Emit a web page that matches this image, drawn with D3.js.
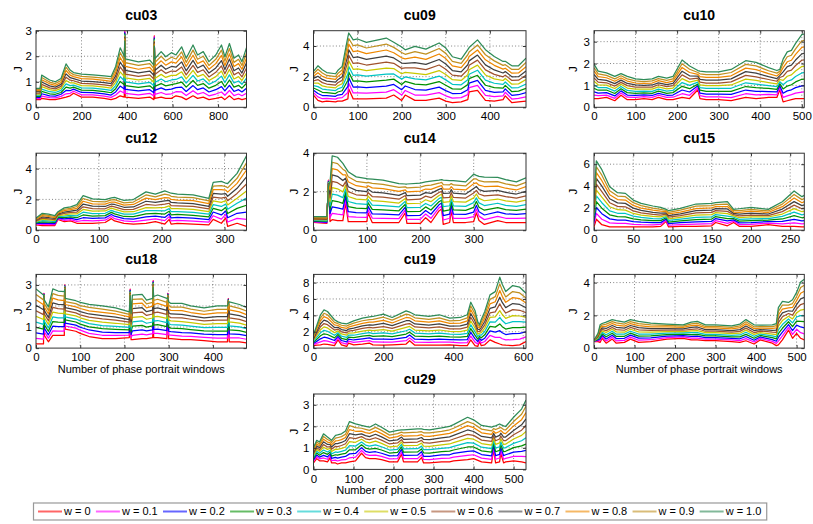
<!DOCTYPE html>
<html><head><meta charset="utf-8">
<script src="https://cdn.jsdelivr.net/npm/d3@7"></script>
<style>
body{margin:0;background:#fff;}
svg{display:block;font-family:"Liberation Sans",Arial,Helvetica,sans-serif;}
</style></head><body>
<svg id="chart" width="813" height="524"></svg>
<script>
// ---------- chart data (J for w = 0, 0.1, ..., 1.0 at each window index) ----------
const panelNames = ["cu03","cu09","cu10","cu12","cu14","cu15","cu18","cu19","cu24","cu29"];
const xMax = [925,482,506,335,398,268,476,608,519,531];
const yMax = [3,5,3.5,5,4,7,3.5,9,4.5,3.5];
const xTicks = [[0,200,400,600,800],[0,100,200,300,400],[0,100,200,300,400,500],[0,100,200,300],[0,100,200,300],[0,50,100,150,200,250],[0,100,200,300,400],[0,200,400,600],[0,100,200,300,400,500],[0,100,200,300,400,500]];
const yTicks = [[0,1,2,3],[0,2,4],[0,1,2,3],[0,2,4],[0,2,4],[0,2,4,6],[0,1,2,3],[0,2,4,6,8],[0,2,4],[0,1,2,3]];
const wLabels = ["w = 0","w = 0.1","w = 0.2","w = 0.3","w = 0.4","w = 0.5","w = 0.6","w = 0.7","w = 0.8","w = 0.9","w = 1.0"];
const xLabelText = "Number of phase portrait windows";
const yLabelText = "J";

const cu03_x = [0,18,25,60,85,110,132,150,165,200,250,300,330,350,370,388,390,392,450,500,518,520,522,550,570,595,615,640,660,690,710,735,760,790,815,830,850,870,890,905,925];
const cu03_J = [
[.30,.34,.39,.43,.48,.52,.56,.61,.65,.70,.74],
[.30,.34,.39,.43,.48,.52,.56,.61,.65,.70,.74],
[.35,.44,.53,.62,.71,.81,.90,.99,1.08,1.17,1.26],
[.30,.38,.45,.53,.61,.69,.76,.84,.92,.99,1.07],
[.30,.37,.44,.51,.58,.65,.72,.79,.86,.93,1.00],
[.35,.43,.51,.58,.66,.74,.82,.90,.97,1.05,1.13],
[.40,.53,.66,.79,.92,1.05,1.18,1.31,1.44,1.57,1.70],
[.45,.55,.65,.75,.85,.96,1.06,1.16,1.26,1.36,1.46],
[.55,.63,.71,.79,.87,.96,1.04,1.12,1.20,1.28,1.36],
[.40,.49,.58,.67,.76,.85,.94,1.03,1.12,1.21,1.30],
[.40,.49,.57,.66,.75,.84,.92,1.01,1.10,1.18,1.27],
[.35,.44,.53,.61,.70,.79,.88,.97,1.05,1.14,1.23],
[.30,.39,.48,.57,.66,.75,.84,.93,1.02,1.11,1.20],
[.35,.48,.60,.73,.85,.98,1.10,1.23,1.35,1.48,1.60],
[.45,.64,.83,1.01,1.20,1.39,1.58,1.77,1.95,2.14,2.33],
[.40,.56,.72,.88,1.04,1.20,1.36,1.52,1.68,1.84,2.00],
[3.00,2.96,2.92,2.88,2.84,2.80,2.76,2.72,2.68,2.64,2.60],
[.40,.55,.70,.85,1.00,1.15,1.30,1.45,1.60,1.75,1.90],
[.35,.49,.64,.78,.92,1.07,1.21,1.35,1.49,1.64,1.78],
[.40,.55,.69,.84,.98,1.13,1.27,1.42,1.56,1.71,1.85],
[.30,.44,.57,.71,.84,.98,1.11,1.25,1.38,1.52,1.65],
[2.80,2.76,2.72,2.68,2.64,2.60,2.56,2.52,2.48,2.44,2.40],
[.35,.51,.66,.82,.97,1.13,1.28,1.44,1.59,1.75,1.90],
[.40,.58,.76,.93,1.11,1.29,1.47,1.65,1.82,2.00,2.18],
[.35,.51,.68,.84,1.00,1.17,1.33,1.49,1.65,1.82,1.98],
[.35,.53,.71,.89,1.07,1.25,1.42,1.60,1.78,1.96,2.14],
[.45,.61,.77,.93,1.09,1.25,1.41,1.57,1.73,1.89,2.05],
[.40,.60,.79,.99,1.19,1.39,1.58,1.78,1.98,2.17,2.37],
[.30,.46,.62,.79,.95,1.11,1.27,1.43,1.60,1.76,1.92],
[.45,.65,.85,1.05,1.25,1.45,1.64,1.84,2.04,2.24,2.44],
[.35,.52,.69,.86,1.03,1.20,1.37,1.54,1.71,1.88,2.05],
[.40,.58,.76,.93,1.11,1.29,1.47,1.65,1.82,2.00,2.18],
[.30,.45,.60,.75,.90,1.05,1.19,1.34,1.49,1.64,1.79],
[.35,.52,.69,.86,1.03,1.20,1.37,1.54,1.71,1.88,2.05],
[.40,.60,.81,1.01,1.22,1.42,1.62,1.83,2.03,2.24,2.44],
[.30,.47,.64,.80,.97,1.14,1.31,1.48,1.64,1.81,1.98],
[.45,.66,.86,1.07,1.27,1.48,1.68,1.89,2.09,2.30,2.50],
[.30,.46,.62,.79,.95,1.11,1.27,1.43,1.60,1.76,1.92],
[.35,.52,.69,.86,1.03,1.20,1.37,1.54,1.71,1.88,2.05],
[.30,.45,.60,.75,.90,1.05,1.19,1.34,1.49,1.64,1.79],
[.35,.55,.75,.94,1.14,1.34,1.54,1.74,1.93,2.13,2.33]];

const cu09_x = [0,10,20,30,50,55,65,78,80,90,100,120,165,182,200,208,230,255,285,300,315,335,350,353,372,390,410,430,435,450,465,482];
const cu09_J = [
[.80,.95,1.11,1.26,1.42,1.57,1.72,1.88,2.03,2.19,2.34],
[.45,.68,.90,1.13,1.35,1.58,1.81,2.03,2.26,2.48,2.71],
[.35,.56,.77,.98,1.19,1.40,1.61,1.82,2.03,2.24,2.45],
[.40,.59,.77,.96,1.15,1.34,1.52,1.71,1.90,2.08,2.27],
[.35,.53,.72,.90,1.09,1.27,1.45,1.64,1.82,2.01,2.19],
[.40,.60,.80,1.00,1.20,1.40,1.60,1.80,2.00,2.20,2.40],
[.40,.63,.85,1.08,1.31,1.54,1.76,1.99,2.22,2.44,2.67],
[.55,.96,1.36,1.77,2.17,2.58,2.98,3.39,3.79,4.20,4.60],
[1.20,1.57,1.93,2.30,2.66,3.03,3.39,3.76,4.12,4.49,4.85],
[.55,.94,1.32,1.71,2.09,2.48,2.86,3.25,3.63,4.02,4.40],
[.55,.94,1.33,1.72,2.11,2.51,2.90,3.29,3.68,4.07,4.46],
[.55,.92,1.29,1.66,2.03,2.40,2.76,3.13,3.50,3.87,4.24],
[.60,.99,1.38,1.78,2.17,2.56,2.95,3.34,3.74,4.13,4.52],
[.80,1.15,1.49,1.84,2.18,2.53,2.87,3.22,3.56,3.91,4.25],
[.45,.80,1.15,1.49,1.84,2.19,2.54,2.89,3.23,3.58,3.93],
[.80,1.10,1.39,1.69,1.98,2.28,2.57,2.87,3.16,3.46,3.75],
[.45,.80,1.16,1.51,1.86,2.22,2.57,2.92,3.27,3.63,3.98],
[.45,.79,1.12,1.46,1.79,2.13,2.46,2.80,3.13,3.47,3.80],
[.60,.96,1.32,1.68,2.04,2.40,2.76,3.12,3.48,3.84,4.20],
[.40,.75,1.09,1.44,1.79,2.14,2.48,2.83,3.18,3.52,3.87],
[.30,.60,.90,1.20,1.50,1.80,2.10,2.40,2.70,3.00,3.30],
[.35,.63,.91,1.19,1.47,1.75,2.03,2.31,2.59,2.87,3.15],
[.50,.83,1.15,1.48,1.80,2.13,2.46,2.78,3.11,3.43,3.76],
[1.00,1.29,1.58,1.87,2.16,2.45,2.74,3.03,3.32,3.61,3.90],
[1.10,1.43,1.76,2.09,2.42,2.75,3.08,3.41,3.74,4.07,4.40],
[.45,.78,1.11,1.44,1.77,2.11,2.44,2.77,3.10,3.43,3.76],
[.40,.69,.98,1.28,1.57,1.86,2.15,2.44,2.74,3.03,3.32],
[.50,.75,1.00,1.25,1.50,1.75,1.99,2.24,2.49,2.74,2.99],
[.75,.98,1.20,1.43,1.65,1.88,2.10,2.33,2.55,2.78,3.00],
[.30,.54,.78,1.02,1.26,1.51,1.75,1.99,2.23,2.47,2.71],
[.35,.59,.82,1.06,1.29,1.53,1.77,2.00,2.24,2.47,2.71],
[.40,.68,.96,1.24,1.52,1.81,2.09,2.37,2.65,2.93,3.21]];

const cu10_x = [0,10,30,50,65,80,100,120,140,155,175,190,212,230,250,255,270,300,330,365,390,420,440,447,455,465,475,485,500,506];
const cu10_J = [
[.40,.56,.71,.87,1.03,1.19,1.34,1.50,1.66,1.81,1.97],
[.40,.53,.65,.78,.90,1.03,1.15,1.28,1.40,1.53,1.65],
[.45,.56,.67,.79,.90,1.01,1.12,1.23,1.35,1.46,1.57],
[.30,.41,.52,.63,.74,.86,.97,1.08,1.19,1.30,1.41],
[.55,.65,.75,.85,.95,1.05,1.14,1.24,1.34,1.44,1.54],
[.35,.46,.56,.67,.77,.88,.99,1.09,1.20,1.30,1.41],
[.35,.45,.54,.64,.73,.83,.92,1.02,1.11,1.21,1.30],
[.40,.49,.57,.66,.74,.83,.92,1.00,1.09,1.17,1.26],
[.35,.45,.54,.64,.73,.83,.92,1.02,1.11,1.21,1.30],
[.45,.55,.64,.74,.83,.93,1.03,1.12,1.22,1.31,1.41],
[.35,.45,.55,.64,.74,.84,.94,1.04,1.13,1.23,1.33],
[.35,.46,.56,.67,.77,.88,.99,1.09,1.20,1.30,1.41],
[.45,.62,.79,.96,1.13,1.31,1.48,1.65,1.82,1.99,2.16],
[.40,.55,.70,.85,1.00,1.15,1.29,1.44,1.59,1.74,1.89],
[.80,.89,.98,1.06,1.15,1.24,1.33,1.42,1.50,1.59,1.68],
[.40,.53,.65,.78,.90,1.03,1.15,1.28,1.40,1.53,1.65],
[.35,.48,.60,.73,.86,.99,1.11,1.24,1.37,1.49,1.62],
[.35,.48,.60,.73,.86,.99,1.11,1.24,1.37,1.49,1.62],
[.30,.44,.59,.73,.87,1.02,1.16,1.30,1.44,1.59,1.73],
[.45,.62,.79,.95,1.12,1.29,1.46,1.63,1.79,1.96,2.13],
[.40,.57,.73,.90,1.06,1.23,1.39,1.56,1.72,1.89,2.05],
[.45,.59,.72,.86,.99,1.13,1.27,1.40,1.54,1.67,1.81],
[.45,.57,.70,.82,.94,1.07,1.19,1.31,1.43,1.56,1.68],
[.80,.89,.99,1.08,1.17,1.27,1.36,1.45,1.54,1.64,1.73],
[.25,.45,.64,.84,1.03,1.23,1.42,1.62,1.81,2.01,2.20],
[.30,.52,.75,.97,1.19,1.42,1.64,1.86,2.08,2.31,2.53],
[.35,.58,.80,1.03,1.25,1.48,1.70,1.93,2.15,2.38,2.60],
[.40,.65,.90,1.16,1.41,1.66,1.91,2.16,2.42,2.67,2.92],
[.40,.69,.98,1.28,1.57,1.86,2.15,2.44,2.74,3.03,3.32],
[.40,.70,.99,1.29,1.58,1.88,2.17,2.47,2.76,3.06,3.35]];

const cu12_x = [0,10,20,30,35,45,55,65,75,90,110,120,125,140,155,175,190,205,212,215,225,250,275,282,295,302,305,320,335];
const cu12_J = [
[.35,.39,.44,.48,.53,.57,.61,.66,.70,.75,.79],
[.30,.38,.46,.54,.62,.70,.78,.86,.94,1.02,1.10],
[.30,.37,.45,.52,.60,.67,.74,.82,.89,.97,1.04],
[.30,.37,.43,.50,.56,.63,.69,.76,.82,.89,.95],
[.70,.75,.80,.85,.90,.95,1.00,1.05,1.10,1.15,1.20],
[.55,.64,.73,.82,.91,1.00,1.09,1.18,1.27,1.36,1.45],
[.60,.69,.78,.87,.96,1.06,1.15,1.24,1.33,1.42,1.51],
[.45,.57,.69,.81,.93,1.06,1.18,1.30,1.42,1.54,1.66],
[.45,.63,.81,.99,1.17,1.35,1.52,1.70,1.88,2.06,2.24],
[.45,.61,.77,.92,1.08,1.24,1.40,1.56,1.71,1.87,2.03],
[.50,.65,.80,.95,1.10,1.25,1.39,1.54,1.69,1.84,1.99],
[.75,.89,1.02,1.16,1.29,1.43,1.56,1.70,1.83,1.97,2.10],
[.60,.75,.91,1.06,1.21,1.37,1.52,1.67,1.82,1.98,2.13],
[.45,.60,.75,.89,1.04,1.19,1.34,1.49,1.63,1.78,1.93],
[.40,.56,.72,.88,1.04,1.20,1.35,1.51,1.67,1.83,1.99],
[.45,.65,.86,1.06,1.27,1.47,1.67,1.88,2.08,2.29,2.49],
[.55,.73,.91,1.09,1.27,1.45,1.62,1.80,1.98,2.16,2.34],
[.40,.62,.83,1.05,1.26,1.48,1.69,1.91,2.12,2.34,2.55],
[.70,.88,1.05,1.23,1.40,1.58,1.75,1.93,2.10,2.28,2.45],
[.40,.60,.80,1.00,1.20,1.40,1.60,1.80,2.00,2.20,2.40],
[.45,.64,.83,1.02,1.21,1.40,1.58,1.77,1.96,2.15,2.34],
[.40,.59,.78,.97,1.16,1.35,1.54,1.73,1.92,2.11,2.30],
[.35,.52,.69,.87,1.04,1.21,1.38,1.55,1.73,1.90,2.07],
[.70,.94,1.18,1.42,1.66,1.91,2.15,2.39,2.63,2.87,3.11],
[.45,.72,.99,1.27,1.54,1.81,2.08,2.35,2.63,2.90,3.17],
[.80,1.03,1.25,1.48,1.70,1.93,2.15,2.38,2.60,2.83,3.05],
[.25,.53,.81,1.08,1.36,1.64,1.92,2.20,2.47,2.75,3.03],
[.45,.77,1.10,1.42,1.75,2.07,2.39,2.72,3.04,3.37,3.69],
[.25,.71,1.17,1.62,2.08,2.54,3.00,3.46,3.91,4.37,4.83]];

const cu14_x = [0,25,28,31,35,45,55,60,65,80,100,102,110,130,160,172,175,200,210,220,235,240,243,255,258,262,285,300,305,310,320,345,360,380,398];
const cu14_J = [
[.40,.43,.46,.49,.52,.55,.58,.61,.64,.67,.70],
[.35,.39,.42,.46,.49,.53,.56,.60,.63,.67,.70],
[2.60,2.57,2.54,2.51,2.48,2.45,2.42,2.39,2.36,2.33,2.30],
[.45,.66,.86,1.07,1.27,1.48,1.68,1.89,2.09,2.30,2.50],
[.55,.88,1.21,1.54,1.87,2.21,2.54,2.87,3.20,3.53,3.86],
[.50,.83,1.16,1.49,1.82,2.15,2.47,2.80,3.13,3.46,3.79],
[.50,.80,1.09,1.39,1.69,1.99,2.28,2.58,2.88,3.17,3.47],
[1.40,1.59,1.77,1.96,2.14,2.33,2.51,2.70,2.88,3.07,3.25],
[.45,.71,.97,1.23,1.49,1.75,2.00,2.26,2.52,2.78,3.04],
[.45,.68,.91,1.15,1.38,1.61,1.84,2.07,2.31,2.54,2.77],
[.45,.67,.90,1.12,1.34,1.57,1.79,2.01,2.23,2.46,2.68],
[.90,1.08,1.25,1.43,1.60,1.78,1.96,2.13,2.31,2.48,2.66],
[.40,.63,.85,1.08,1.30,1.53,1.75,1.98,2.20,2.43,2.65],
[.40,.62,.84,1.06,1.28,1.50,1.72,1.94,2.16,2.38,2.60],
[.40,.60,.80,1.01,1.21,1.41,1.61,1.81,2.02,2.22,2.42],
[.90,1.05,1.20,1.35,1.50,1.65,1.80,1.95,2.10,2.25,2.40],
[.35,.56,.76,.97,1.17,1.38,1.58,1.79,1.99,2.20,2.40],
[.35,.56,.77,.98,1.19,1.40,1.61,1.82,2.03,2.24,2.45],
[.65,.84,1.02,1.21,1.39,1.58,1.77,1.95,2.14,2.32,2.51],
[.40,.62,.83,1.05,1.26,1.48,1.69,1.91,2.12,2.34,2.55],
[1.00,1.16,1.32,1.48,1.64,1.80,1.96,2.12,2.28,2.44,2.60],
[1.10,1.25,1.41,1.56,1.71,1.87,2.02,2.17,2.32,2.48,2.63],
[.30,.53,.76,.99,1.22,1.45,1.68,1.91,2.14,2.37,2.60],
[.40,.62,.84,1.05,1.27,1.49,1.71,1.93,2.14,2.36,2.58],
[1.00,1.16,1.32,1.47,1.63,1.79,1.95,2.11,2.26,2.42,2.58],
[.40,.62,.83,1.05,1.27,1.49,1.70,1.92,2.14,2.35,2.57],
[.40,.61,.82,1.03,1.24,1.46,1.67,1.88,2.09,2.30,2.51],
[.45,.70,.94,1.19,1.43,1.68,1.93,2.17,2.42,2.66,2.91],
[.90,1.10,1.29,1.49,1.68,1.88,2.07,2.27,2.46,2.66,2.85],
[.50,.73,.96,1.19,1.42,1.65,1.88,2.11,2.34,2.57,2.80],
[.30,.55,.79,1.04,1.28,1.53,1.78,2.02,2.27,2.51,2.76],
[.50,.72,.95,1.17,1.40,1.62,1.84,2.07,2.29,2.52,2.74],
[.40,.62,.85,1.07,1.29,1.52,1.74,1.96,2.18,2.41,2.63],
[.40,.61,.82,1.03,1.24,1.46,1.67,1.88,2.09,2.30,2.51],
[.40,.63,.86,1.10,1.33,1.56,1.79,2.02,2.26,2.49,2.72]];

const cu15_x = [0,3,10,20,30,40,50,60,75,85,92,95,110,130,150,155,170,178,185,200,222,240,255,265,268];
const cu15_J = [
[.30,.55,.80,1.05,1.30,1.55,1.80,2.05,2.30,2.55,2.80],
[1.00,1.53,2.06,2.59,3.12,3.65,4.18,4.71,5.24,5.77,6.30],
[.50,1.00,1.50,2.00,2.50,3.00,3.50,4.00,4.50,5.00,5.50],
[.30,.67,1.03,1.40,1.76,2.13,2.50,2.86,3.23,3.59,3.96],
[.30,.61,.92,1.23,1.54,1.86,2.17,2.48,2.79,3.10,3.41],
[.30,.61,.91,1.22,1.52,1.83,2.13,2.44,2.74,3.05,3.35],
[.30,.54,.79,1.03,1.28,1.52,1.76,2.01,2.25,2.50,2.74],
[.30,.51,.73,.94,1.16,1.37,1.58,1.80,2.01,2.23,2.44],
[.30,.49,.68,.87,1.06,1.25,1.44,1.63,1.82,2.01,2.20],
[.35,.52,.69,.87,1.04,1.21,1.38,1.55,1.73,1.90,2.07],
[.80,.91,1.02,1.13,1.24,1.35,1.46,1.57,1.68,1.79,1.90],
[.30,.45,.59,.74,.89,1.04,1.18,1.33,1.48,1.62,1.77],
[.35,.51,.68,.84,1.00,1.17,1.33,1.49,1.65,1.82,1.98],
[.35,.55,.76,.96,1.16,1.37,1.57,1.77,1.97,2.18,2.38],
[.40,.60,.81,1.01,1.22,1.42,1.62,1.83,2.03,2.24,2.44],
[.70,.88,1.06,1.24,1.42,1.60,1.78,1.96,2.14,2.32,2.50],
[.40,.62,.84,1.06,1.28,1.50,1.71,1.93,2.15,2.37,2.59],
[.70,.82,.94,1.06,1.18,1.30,1.41,1.53,1.65,1.77,1.89],
[.35,.51,.67,.83,.99,1.15,1.31,1.47,1.63,1.79,1.95],
[.35,.52,.69,.87,1.04,1.21,1.38,1.55,1.73,1.90,2.07],
[.50,.64,.78,.92,1.06,1.20,1.33,1.47,1.61,1.75,1.89],
[.35,.57,.80,1.02,1.25,1.47,1.69,1.92,2.14,2.37,2.59],
[.35,.67,.99,1.32,1.64,1.96,2.28,2.60,2.93,3.25,3.57],
[.30,.58,.85,1.13,1.40,1.68,1.95,2.23,2.50,2.78,3.05],
[.30,.59,.87,1.16,1.45,1.74,2.02,2.31,2.60,2.88,3.17]];

const cu18_x = [0,17,18,19,28,38,50,64,65,66,90,100,120,150,180,211,213,215,218,240,250,264,265,266,275,296,298,300,305,330,350,380,410,433,435,437,460,476];
const cu18_J = [
[.20,.46,.72,.98,1.24,1.51,1.77,2.03,2.29,2.55,2.81],
[.20,.43,.66,.90,1.13,1.36,1.59,1.82,2.06,2.29,2.52],
[2.60,2.58,2.56,2.54,2.52,2.50,2.48,2.46,2.44,2.42,2.40],
[.60,.77,.94,1.10,1.27,1.44,1.61,1.78,1.94,2.11,2.28],
[.30,.47,.63,.80,.96,1.13,1.30,1.46,1.63,1.79,1.96],
[.60,.82,1.04,1.26,1.48,1.71,1.93,2.15,2.37,2.59,2.81],
[.60,.81,1.02,1.23,1.44,1.66,1.87,2.08,2.29,2.50,2.71],
[.60,.81,1.02,1.22,1.43,1.64,1.85,2.06,2.26,2.47,2.68],
[3.00,2.98,2.96,2.94,2.92,2.90,2.88,2.86,2.84,2.82,2.80],
[.90,1.05,1.19,1.34,1.48,1.63,1.78,1.92,2.07,2.21,2.36],
[.80,.95,1.09,1.24,1.38,1.53,1.67,1.82,1.96,2.11,2.25],
[.70,.85,.99,1.14,1.29,1.44,1.58,1.73,1.88,2.02,2.17],
[.55,.70,.86,1.01,1.16,1.32,1.47,1.62,1.77,1.93,2.08],
[.45,.61,.76,.92,1.07,1.23,1.39,1.54,1.70,1.85,2.01],
[.45,.60,.74,.89,1.03,1.18,1.33,1.47,1.62,1.76,1.91],
[.50,.62,.74,.87,.99,1.11,1.23,1.35,1.48,1.60,1.72],
[2.80,2.77,2.74,2.71,2.68,2.65,2.62,2.59,2.56,2.53,2.50],
[.40,.52,.65,.77,.90,1.02,1.14,1.27,1.39,1.52,1.64],
[.40,.61,.82,1.04,1.25,1.46,1.67,1.88,2.10,2.31,2.52],
[.45,.66,.87,1.08,1.29,1.50,1.71,1.92,2.13,2.34,2.55],
[.45,.63,.82,1.00,1.18,1.37,1.55,1.73,1.91,2.10,2.28],
[.50,.69,.87,1.06,1.24,1.43,1.62,1.80,1.99,2.17,2.36],
[3.20,3.17,3.14,3.11,3.08,3.05,3.02,2.99,2.96,2.93,2.90],
[.50,.70,.89,1.09,1.28,1.48,1.67,1.87,2.06,2.26,2.45],
[.50,.70,.90,1.11,1.31,1.51,1.71,1.91,2.12,2.32,2.52],
[.45,.64,.83,1.02,1.21,1.41,1.60,1.79,1.98,2.17,2.36],
[2.60,2.58,2.56,2.54,2.52,2.50,2.48,2.46,2.44,2.42,2.40],
[.45,.63,.80,.98,1.15,1.33,1.50,1.68,1.85,2.03,2.20],
[.45,.62,.78,.95,1.12,1.29,1.45,1.62,1.79,1.95,2.12],
[.40,.57,.74,.92,1.09,1.26,1.43,1.60,1.78,1.95,2.12],
[.40,.56,.72,.88,1.04,1.21,1.37,1.53,1.69,1.85,2.01],
[.35,.51,.66,.82,.97,1.13,1.29,1.44,1.60,1.75,1.91],
[.30,.47,.64,.81,.98,1.16,1.33,1.50,1.67,1.84,2.01],
[.30,.47,.64,.81,.98,1.16,1.33,1.50,1.67,1.84,2.01],
[2.35,2.33,2.31,2.29,2.27,2.25,2.23,2.21,2.19,2.17,2.15],
[.30,.49,.68,.87,1.06,1.25,1.44,1.63,1.82,2.01,2.20],
[.30,.48,.65,.83,1.01,1.19,1.36,1.54,1.72,1.89,2.07],
[.25,.42,.59,.75,.92,1.09,1.26,1.43,1.59,1.76,1.93]];

const cu19_x = [0,10,20,30,40,60,70,80,95,100,115,140,160,170,200,225,265,275,290,330,360,390,420,440,450,462,470,475,480,490,505,520,533,540,550,570,590,608];
const cu19_J = [
[.30,.43,.57,.70,.83,.97,1.10,1.23,1.36,1.50,1.63],
[.35,.60,.85,1.10,1.35,1.60,1.85,2.10,2.35,2.60,2.85],
[.40,.77,1.13,1.50,1.87,2.24,2.60,2.97,3.34,3.70,4.07],
[.50,.92,1.33,1.75,2.17,2.59,3.00,3.42,3.84,4.25,4.67],
[.45,.85,1.25,1.66,2.06,2.46,2.86,3.26,3.67,4.07,4.47],
[.30,.62,.93,1.25,1.56,1.88,2.20,2.51,2.83,3.14,3.46],
[1.00,1.22,1.44,1.66,1.88,2.10,2.32,2.54,2.76,2.98,3.20],
[.40,.67,.93,1.20,1.46,1.73,1.99,2.26,2.52,2.79,3.05],
[.20,.48,.75,1.03,1.31,1.59,1.86,2.14,2.42,2.69,2.97],
[.60,.85,1.09,1.34,1.58,1.83,2.07,2.32,2.56,2.81,3.05],
[.40,.69,.99,1.28,1.57,1.87,2.16,2.45,2.74,3.04,3.33],
[.50,.82,1.13,1.45,1.76,2.08,2.40,2.71,3.03,3.34,3.66],
[.60,.92,1.24,1.56,1.88,2.20,2.52,2.84,3.16,3.48,3.80],
[.40,.75,1.09,1.44,1.78,2.13,2.48,2.82,3.17,3.51,3.86],
[.35,.73,1.11,1.49,1.87,2.25,2.63,3.01,3.39,3.77,4.15],
[.40,.73,1.07,1.40,1.74,2.07,2.40,2.74,3.07,3.41,3.74],
[.50,.91,1.31,1.72,2.12,2.53,2.93,3.34,3.74,4.15,4.55],
[.90,1.25,1.60,1.95,2.30,2.65,3.00,3.35,3.70,4.05,4.40],
[.35,.72,1.09,1.47,1.84,2.21,2.58,2.95,3.33,3.70,4.07],
[.35,.70,1.05,1.40,1.75,2.11,2.46,2.81,3.16,3.51,3.86],
[.35,.72,1.09,1.47,1.84,2.21,2.58,2.95,3.33,3.70,4.07],
[.40,.73,1.05,1.38,1.70,2.03,2.36,2.68,3.01,3.33,3.66],
[.30,.64,.99,1.33,1.68,2.02,2.36,2.71,3.05,3.40,3.74],
[.30,.68,1.05,1.43,1.81,2.19,2.56,2.94,3.32,3.69,4.07],
[1.00,1.46,1.92,2.38,2.84,3.31,3.77,4.23,4.69,5.15,5.61],
[.30,.73,1.16,1.59,2.02,2.45,2.88,3.31,3.74,4.17,4.60],
[.20,.50,.80,1.10,1.40,1.70,2.00,2.30,2.60,2.90,3.20],
[.80,1.01,1.21,1.42,1.62,1.83,2.03,2.24,2.44,2.65,2.85],
[.30,.62,.94,1.26,1.58,1.90,2.22,2.54,2.86,3.18,3.50],
[.40,.81,1.21,1.62,2.03,2.44,2.84,3.25,3.66,4.06,4.47],
[1.00,1.55,2.10,2.65,3.20,3.75,4.30,4.85,5.40,5.95,6.50],
[.70,1.32,1.94,2.56,3.18,3.80,4.42,5.04,5.66,6.28,6.90],
[.50,1.32,2.13,2.95,3.76,4.58,5.40,6.21,7.03,7.84,8.66],
[.40,1.14,1.88,2.62,3.36,4.10,4.84,5.58,6.32,7.06,7.80],
[.35,1.01,1.66,2.32,2.97,3.63,4.28,4.94,5.59,6.25,6.90],
[.30,1.03,1.77,2.50,3.24,3.97,4.70,5.44,6.17,6.91,7.64],
[.40,1.10,1.81,2.51,3.22,3.92,4.62,5.33,6.03,6.74,7.44],
[.80,1.39,1.98,2.57,3.16,3.75,4.34,4.93,5.52,6.11,6.70]];

const cu24_x = [0,10,15,20,30,45,55,75,90,110,140,180,220,240,255,275,300,340,360,375,395,410,440,450,455,465,480,490,500,510,519];
const cu24_J = [
[.40,.41,.42,.42,.43,.44,.45,.46,.46,.47,.48],
[.40,.45,.50,.55,.60,.65,.70,.75,.80,.85,.90],
[.35,.46,.56,.67,.78,.89,.99,1.10,1.21,1.31,1.42],
[.60,.69,.78,.87,.96,1.05,1.14,1.23,1.32,1.41,1.50],
[.30,.43,.56,.69,.82,.95,1.07,1.20,1.33,1.46,1.59],
[.55,.67,.79,.91,1.03,1.15,1.26,1.38,1.50,1.62,1.74],
[.30,.44,.58,.71,.85,.99,1.13,1.27,1.40,1.54,1.68],
[.35,.47,.60,.72,.85,.97,1.09,1.22,1.34,1.47,1.59],
[.55,.67,.79,.91,1.03,1.15,1.26,1.38,1.50,1.62,1.74],
[.35,.48,.61,.73,.86,.99,1.12,1.25,1.37,1.50,1.63],
[.40,.51,.63,.74,.85,.97,1.08,1.19,1.30,1.42,1.53],
[.55,.64,.73,.83,.92,1.01,1.10,1.19,1.29,1.38,1.47],
[.60,.68,.76,.85,.93,1.01,1.09,1.17,1.26,1.34,1.42],
[.50,.61,.72,.83,.94,1.05,1.15,1.26,1.37,1.48,1.59],
[.50,.61,.73,.84,.95,1.07,1.18,1.29,1.40,1.52,1.63],
[.45,.55,.64,.74,.84,.94,1.03,1.13,1.23,1.32,1.42],
[.45,.55,.64,.74,.84,.94,1.03,1.13,1.23,1.32,1.42],
[.40,.50,.59,.69,.78,.88,.98,1.07,1.17,1.26,1.36],
[.35,.46,.57,.69,.80,.91,1.02,1.13,1.25,1.36,1.47],
[.45,.58,.71,.84,.97,1.10,1.22,1.35,1.48,1.61,1.74],
[.25,.37,.48,.60,.72,.84,.95,1.07,1.19,1.30,1.42],
[.50,.59,.68,.77,.86,.95,1.04,1.13,1.22,1.31,1.40],
[.30,.41,.52,.64,.75,.86,.97,1.08,1.20,1.31,1.42],
[.15,.29,.42,.56,.69,.83,.96,1.10,1.23,1.37,1.50],
[.20,.43,.65,.88,1.11,1.34,1.56,1.79,2.02,2.24,2.47],
[.50,.74,.97,1.21,1.44,1.68,1.91,2.15,2.38,2.62,2.85],
[1.10,1.27,1.44,1.61,1.78,1.95,2.11,2.28,2.45,2.62,2.79],
[.60,.84,1.07,1.31,1.54,1.78,2.01,2.25,2.48,2.72,2.95],
[.90,1.15,1.40,1.65,1.90,2.15,2.40,2.65,2.90,3.15,3.40],
[.60,.94,1.29,1.63,1.98,2.32,2.66,3.01,3.35,3.70,4.04],
[.50,.87,1.24,1.61,1.98,2.36,2.73,3.10,3.47,3.84,4.21]];

const cu29_x = [0,8,15,25,35,42,45,55,60,70,80,90,105,120,130,140,155,170,190,210,220,225,260,270,275,290,320,340,350,385,400,420,445,450,455,465,468,475,480,500,520,531];
const cu29_J = [
[.30,.37,.44,.51,.58,.66,.73,.80,.87,.94,1.01],
[.50,.59,.67,.76,.84,.93,1.01,1.10,1.18,1.27,1.35],
[.40,.49,.57,.66,.75,.84,.92,1.01,1.10,1.18,1.27],
[.40,.53,.65,.78,.90,1.03,1.15,1.28,1.40,1.53,1.65],
[.35,.47,.58,.70,.81,.93,1.04,1.16,1.27,1.39,1.50],
[.55,.64,.72,.81,.89,.98,1.06,1.15,1.23,1.32,1.40],
[.30,.41,.51,.62,.72,.83,.93,1.04,1.14,1.25,1.35],
[.30,.43,.56,.68,.81,.94,1.07,1.20,1.32,1.45,1.58],
[.25,.39,.52,.66,.79,.93,1.06,1.20,1.33,1.47,1.60],
[.30,.44,.57,.71,.84,.98,1.11,1.25,1.38,1.52,1.65],
[.30,.45,.60,.74,.89,1.04,1.19,1.34,1.48,1.63,1.78],
[.35,.54,.72,.91,1.10,1.29,1.47,1.66,1.85,2.03,2.22],
[.40,.57,.74,.91,1.08,1.26,1.43,1.60,1.77,1.94,2.11],
[.75,.88,1.01,1.14,1.27,1.40,1.52,1.65,1.78,1.91,2.04],
[.55,.70,.84,.99,1.13,1.28,1.42,1.57,1.71,1.86,2.00],
[.50,.65,.79,.94,1.08,1.23,1.38,1.52,1.67,1.81,1.96],
[.50,.66,.82,.98,1.14,1.31,1.47,1.63,1.79,1.95,2.11],
[.45,.60,.75,.90,1.05,1.21,1.36,1.51,1.66,1.81,1.96],
[.35,.49,.63,.76,.90,1.04,1.18,1.32,1.45,1.59,1.73],
[.35,.50,.64,.79,.93,1.08,1.23,1.37,1.52,1.66,1.81],
[.70,.81,.93,1.04,1.16,1.27,1.38,1.50,1.61,1.73,1.84],
[.35,.50,.65,.80,.95,1.10,1.24,1.39,1.54,1.69,1.84],
[.35,.50,.66,.81,.96,1.12,1.27,1.42,1.57,1.73,1.88],
[.55,.68,.82,.95,1.08,1.22,1.35,1.48,1.61,1.75,1.88],
[.30,.46,.61,.77,.92,1.08,1.24,1.39,1.55,1.70,1.86],
[.30,.45,.61,.76,.92,1.07,1.22,1.38,1.53,1.69,1.84],
[.35,.51,.67,.82,.98,1.14,1.30,1.46,1.61,1.77,1.93],
[.35,.52,.68,.85,1.01,1.18,1.34,1.51,1.67,1.84,2.00],
[.40,.57,.74,.90,1.07,1.24,1.41,1.58,1.74,1.91,2.08],
[.45,.65,.84,1.04,1.24,1.44,1.63,1.83,2.03,2.22,2.42],
[.50,.68,.86,1.04,1.22,1.40,1.58,1.76,1.94,2.12,2.30],
[.35,.52,.69,.86,1.03,1.20,1.36,1.53,1.70,1.87,2.04],
[.30,.47,.63,.80,.96,1.13,1.30,1.46,1.63,1.79,1.96],
[.90,1.01,1.12,1.23,1.34,1.45,1.56,1.67,1.78,1.89,2.00],
[.30,.47,.64,.82,.99,1.16,1.33,1.50,1.68,1.85,2.02],
[.35,.53,.70,.88,1.05,1.23,1.41,1.58,1.76,1.93,2.11],
[.75,.88,1.02,1.15,1.28,1.42,1.55,1.68,1.81,1.95,2.08],
[.30,.47,.64,.82,.99,1.16,1.33,1.50,1.68,1.85,2.02],
[.35,.51,.68,.84,1.01,1.17,1.33,1.50,1.66,1.83,1.99],
[.40,.60,.80,1.01,1.21,1.41,1.61,1.81,2.02,2.22,2.42],
[.35,.60,.84,1.09,1.33,1.58,1.82,2.07,2.31,2.56,2.80],
[.30,.59,.88,1.18,1.47,1.76,2.05,2.34,2.64,2.93,3.22]];

// ---------- styling & layout ----------
const wColors = ["#ff0000","#ff00ff","#0000ff","#009000","#00c4c4","#c8c800","#a0522d","#404040","#ee8800","#c09020","#2e8b57"];
const panelX = [cu03_x,cu09_x,cu10_x,cu12_x,cu14_x,cu15_x,cu18_x,cu19_x,cu24_x,cu29_x];
const panelJ = [cu03_J,cu09_J,cu10_J,cu12_J,cu14_J,cu15_J,cu18_J,cu19_J,cu24_J,cu29_J];
const panelCell = [[0,0],[0,1],[0,2],[1,0],[1,1],[1,2],[2,0],[2,1],[2,2],[3,1]];
const showXLabel = ["cu18","cu24","cu29"];
const colLeft = [36,313.5,594], colW = [210.5,212.5,210.3];
const rowTop = [30.7,153.2,274.4,394], rowBot = [107.3,230.2,348.1,469.4];
const yLabelGap = [14,16,17.5];

const svg = d3.select("#chart");
svg.append("rect").attr("width",813).attr("height",524).attr("fill","#fff");
const defs = svg.append("defs");

panelNames.forEach((name,i)=>{
  const [r,c] = panelCell[i];
  const L = colLeft[c], W = colW[c], T = rowTop[r], B = rowBot[r];
  const x = d3.scaleLinear().domain([0,xMax[i]]).range([L,L+W]);
  const y = d3.scaleLinear().domain([0,yMax[i]]).range([B,T]);
  const g = svg.append("g");

  defs.append("clipPath").attr("id","clip"+i).append("rect")
    .attr("x",L).attr("y",T).attr("width",W).attr("height",B-T);

  // grid
  g.append("g").selectAll("line").data(xTicks[i].filter(v=>v>0 && v<xMax[i])).join("line")
    .attr("x1",d=>x(d)).attr("x2",d=>x(d)).attr("y1",T).attr("y2",B)
    .attr("stroke","#666").attr("stroke-width",0.8).attr("stroke-dasharray","1,2.2");
  g.append("g").selectAll("line").data(yTicks[i].filter(v=>v>0 && v<yMax[i])).join("line")
    .attr("x1",L).attr("x2",L+W).attr("y1",d=>y(d)).attr("y2",d=>y(d))
    .attr("stroke","#666").attr("stroke-width",0.8).attr("stroke-dasharray","1,2.2");

  // series
  const xs = panelX[i], J = panelJ[i];
  const n = Math.min(xs.length, J.length);
  const line = d3.line().x(d=>x(d[0])).y(d=>y(d[1]));
  const lg = g.append("g").attr("clip-path","url(#clip"+i+")");
  for (let k=0;k<wLabels.length;k++){
    const pts = [];
    for (let j=0;j<n;j++) pts.push([xs[j], J[j][k]]);
    lg.append("path").attr("d",line(pts)).attr("fill","none")
      .attr("stroke",wColors[k]).attr("stroke-width",1.25).attr("stroke-linejoin","round");
  }

  // frame
  g.append("rect").attr("x",L).attr("y",T).attr("width",W).attr("height",B-T)
    .attr("fill","none").attr("stroke","#333").attr("stroke-width",1);

  // axes (ticks inside, mirrored on top/right)
  const styleAxis = a => { a.select(".domain").remove(); a.selectAll(".tick line").attr("stroke","#333");
    a.selectAll("text").attr("fill","#000").style("font-size","11.5px").style("font-family","'Liberation Sans',Arial,sans-serif"); };
  g.append("g").attr("transform",`translate(0,${B})`)
    .call(d3.axisBottom(x).tickValues(xTicks[i]).tickSize(-3).tickPadding(5).tickFormat(d3.format("d"))).call(styleAxis);
  g.append("g").attr("transform",`translate(${L},0)`)
    .call(d3.axisLeft(y).tickValues(yTicks[i]).tickSize(-3).tickPadding(4).tickFormat(d3.format("d"))).call(styleAxis);
  g.append("g").attr("transform",`translate(0,${T})`)
    .call(d3.axisTop(x).tickValues(xTicks[i]).tickSize(-3).tickFormat("")).call(styleAxis);
  g.append("g").attr("transform",`translate(${L+W},0)`)
    .call(d3.axisRight(y).tickValues(yTicks[i]).tickSize(-3).tickFormat("")).call(styleAxis);

  // title
  g.append("text").attr("x",L+W/2).attr("y",T-10.5).attr("text-anchor","middle")
    .style("font-size","14px").style("font-weight","bold").text(name);
  // y label
  g.append("text").attr("transform",`translate(${L-yLabelGap[c]},${(T+B)/2}) rotate(-90)`)
    .attr("text-anchor","middle").style("font-size","11.5px").text(yLabelText);
  // x label
  if (showXLabel.includes(name)) {
    g.append("text").attr("x",L+W/2).attr("y",B+24.5).attr("text-anchor","middle")
      .style("font-size","11px").text(xLabelText);
  }
});

// legend
const leg = svg.append("g");
const legBox = leg.append("rect").attr("x",33.5).attr("y",503).attr("height",17)
  .attr("fill","#fff").attr("stroke","#999").attr("stroke-width",1.2);
let lx = 38;
wLabels.forEach((lab,k)=>{
  leg.append("line").attr("x1",lx).attr("x2",lx+24).attr("y1",511.5).attr("y2",511.5)
    .attr("stroke",wColors[k]).attr("stroke-opacity",0.6).attr("stroke-width",2);
  const t = leg.append("text").attr("x",lx+26).attr("y",515.4).style("font-size","11px").text(lab);
  lx += 26 + t.node().getComputedTextLength() + 5.3;
});
legBox.attr("width", lx - 33.5);
</script>
</body></html>
